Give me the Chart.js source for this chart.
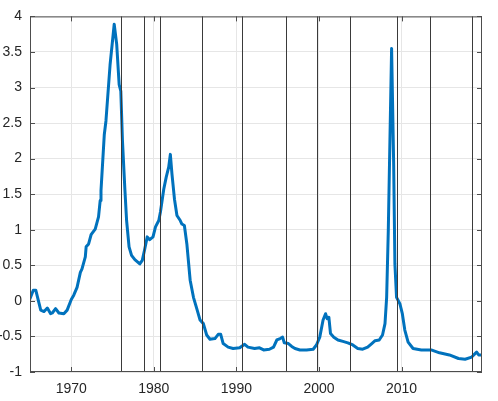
<!DOCTYPE html>
<html lang="en">
  <head>
    <meta charset="UTF-8" />
    <title>Series with vertical markers</title>
    <script src="https://cdn.jsdelivr.net/npm/chart.js"></script>
    <style>
      html, body { margin: 0; padding: 0; background: #fff; }
      #wrap { width: 498px; height: 401px; }
    </style>
  </head>
  <body>
    <div id="wrap"><canvas id="chart"></canvas></div>
    <script>
      // series (decimal years)
      const years = [
        1965.0, 1965.4, 1965.7, 1966.0, 1966.3, 1966.7, 1967.1, 1967.5, 1967.7, 1968.1,
        1968.5, 1969.1, 1969.5, 1970.0, 1970.3, 1970.7, 1971.1, 1971.3, 1971.7, 1971.8,
        1972.1, 1972.4, 1972.9, 1973.3, 1973.5, 1973.6, 1974.0, 1974.2, 1974.7, 1975.2,
        1975.5, 1975.8, 1976.0, 1976.2, 1976.5, 1976.7, 1977.0, 1977.3, 1977.7, 1978.3,
        1978.6, 1978.9, 1979.2, 1979.5, 1979.9, 1980.2, 1980.6, 1980.8, 1981.2, 1981.5,
        1981.8, 1982.0, 1982.2, 1982.5, 1982.8, 1983.2, 1983.4, 1983.7, 1984.0, 1984.4,
        1984.8, 1985.2, 1985.6, 1986.0, 1986.4, 1986.8, 1987.4, 1987.8, 1988.1, 1988.4,
        1989.0, 1989.6, 1990.4, 1991.0, 1991.4, 1992.2, 1992.8, 1993.3, 1994.0, 1994.5,
        1994.9, 1995.3, 1995.6, 1995.8, 1996.3, 1996.7, 1997.1, 1997.7, 1998.5, 1999.3,
        1999.7, 2000.1, 2000.5, 2000.8, 2001.0, 2001.2, 2001.4, 2001.8, 2002.3, 2002.9,
        2003.5, 2004.1, 2004.7, 2005.3, 2005.9, 2006.4, 2006.8, 2007.3, 2007.7, 2008.0,
        2008.2, 2008.4, 2008.8, 2009.05, 2009.2, 2009.4, 2009.8, 2010.1, 2010.4, 2010.8,
        2011.4, 2012.4, 2013.6, 2014.6, 2015.8, 2016.9, 2017.7, 2018.5, 2018.75, 2019.1,
        2019.35, 2019.7
      ];
      const values = [
        0.03, 0.15, 0.15, 0.01, -0.13, -0.15, -0.10, -0.18, -0.17, -0.11,
        -0.17, -0.18, -0.13, 0.02, 0.08, 0.19, 0.40, 0.45, 0.62, 0.76,
        0.80, 0.93, 1.01, 1.18, 1.41, 1.55, 2.34, 2.53, 3.32, 3.89,
        3.61, 3.04, 2.95, 2.25, 1.55, 1.13, 0.76, 0.64, 0.58, 0.52,
        0.57, 0.73, 0.90, 0.86, 0.90, 1.04, 1.13, 1.25, 1.57, 1.74,
        1.88, 2.06, 1.78, 1.43, 1.20, 1.13, 1.08, 1.06, 0.80, 0.29,
        0.05, -0.11, -0.27, -0.32, -0.48, -0.54, -0.53, -0.47, -0.47, -0.60,
        -0.65, -0.67, -0.66, -0.61, -0.65, -0.67, -0.66, -0.69, -0.68, -0.65,
        -0.55, -0.53, -0.51, -0.59, -0.60, -0.64, -0.67, -0.69, -0.69, -0.68,
        -0.62, -0.51, -0.27, -0.18, -0.25, -0.23, -0.46, -0.51, -0.55, -0.57,
        -0.59, -0.62, -0.67, -0.68, -0.65, -0.60, -0.56, -0.55, -0.48, -0.32,
        0.05, 0.99, 3.55, 1.92, 0.52, 0.05, -0.04, -0.18, -0.41, -0.58,
        -0.67, -0.69, -0.69, -0.73, -0.76, -0.81, -0.82, -0.79, -0.76, -0.72,
        -0.76, -0.76
      ];
      // vertical marker dates
      const markerYears = [1976.0, 1978.8, 1980.8, 1985.8, 1990.7, 1996.0, 1999.8, 2003.8, 2009.5, 2013.5, 2018.5];
      const xTicks = [1970, 1980, 1990, 2000, 2010];

      const boxPlugin = {
        id: "box",
        afterDatasetsDraw(chart) {
          const { ctx, chartArea: a, scales } = chart;
          ctx.save();
          // markers
          ctx.strokeStyle = "#3a3a3a";
          ctx.lineWidth = 1;
          markerYears.forEach((yr) => {
            const px = Math.round(scales.x.getPixelForValue(yr)) + 0.5;
            ctx.beginPath();
            ctx.moveTo(px, a.top);
            ctx.lineTo(px, a.bottom);
            ctx.stroke();
          });
          // frame
          ctx.strokeStyle = "#4d4d4d";
          ctx.strokeRect(a.left + 0.5, a.top + 0.5, a.right - a.left - 1, a.bottom - a.top - 1);
          // inward ticks
          const tl = 5;
          ctx.beginPath();
          scales.x.ticks.forEach((t) => {
            const px = Math.round(scales.x.getPixelForValue(t.value)) + 0.5;
            ctx.moveTo(px, a.bottom);
            ctx.lineTo(px, a.bottom - tl);
            ctx.moveTo(px, a.top);
            ctx.lineTo(px, a.top + tl);
          });
          scales.y.ticks.forEach((t) => {
            const py = Math.round(scales.y.getPixelForValue(t.value)) + 0.5;
            ctx.moveTo(a.left, py);
            ctx.lineTo(a.left + tl, py);
            ctx.moveTo(a.right, py);
            ctx.lineTo(a.right - tl, py);
          });
          ctx.stroke();
          ctx.restore();
        },
      };

      const font = { family: "'Liberation Sans', Arial, sans-serif", size: 14 };

      new Chart(document.getElementById("chart"), {
        type: "line",
        data: {
          datasets: [
            {
              data: years.map((yr, i) => ({ x: yr, y: values[i] })),
              borderColor: "#0072BD",
              borderWidth: 3,
              borderJoinStyle: "round",
              borderCapStyle: "round",
              pointRadius: 0,
              tension: 0,
              fill: false,
            },
          ],
        },
        options: {
          responsive: true,
          maintainAspectRatio: false,
          animation: false,
          layout: { padding: { top: 15, right: 16, bottom: 0, left: 0 } },
          plugins: { legend: { display: false }, tooltip: { enabled: false } },
          scales: {
            x: {
              type: "linear",
              min: 1965,
              max: 2019.75,
              afterBuildTicks: (scale) => {
                scale.ticks = xTicks.map((v) => ({ value: v }));
              },
              afterFit: (scale) => {
                scale.height = 29;
              },
              grid: { color: "#e6e6e6", drawTicks: false },
              border: { display: false },
              ticks: { color: "#262626", font: font, padding: 9, maxRotation: 0, callback: (v) => String(v) },
            },
            y: {
              min: -1,
              max: 4,
              afterFit: (scale) => {
                scale.width = 30;
              },
              grid: { color: "#e6e6e6", drawTicks: false },
              border: { display: false },
              ticks: { stepSize: 0.5, color: "#262626", font: font, padding: 8, callback: (v) => String(v) },
            },
          },
        },
        plugins: [boxPlugin],
      });
    </script>
  </body>
</html>
